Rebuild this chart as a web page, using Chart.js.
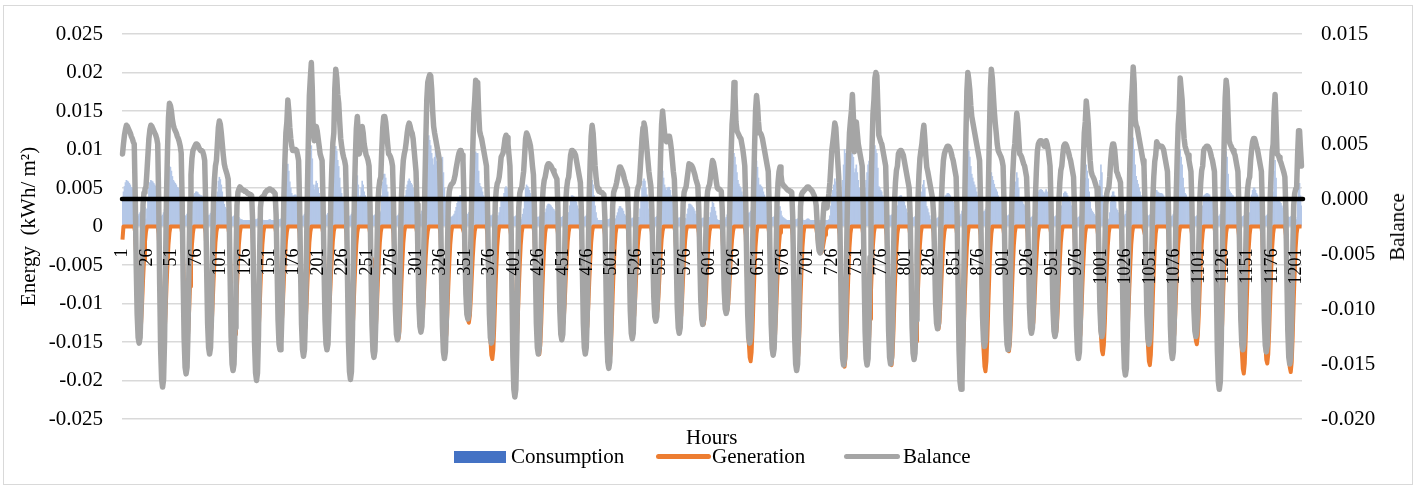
<!DOCTYPE html>
<html>
<head>
<meta charset="utf-8">
<title>Energy balance</title>
<script src="https://cdn.jsdelivr.net/npm/chart.js@4.4.1/dist/chart.umd.min.js"></script>
<style>
  html, body { margin: 0; padding: 0; background: #fff; }
  #wrap { position: relative; width: 1417px; height: 486px; overflow: hidden; }
  #frame { position: absolute; left: 3px; top: 5px; width: 1410px; height: 480px; border: 1.5px solid #d9d9d9; box-sizing: border-box; }
  #chart { position: absolute; left: 0; top: 0; }
  .txt { position: absolute; font-family: "Liberation Serif", "Times New Roman", serif; font-size: 21px; line-height: 24px; color: #000; white-space: nowrap; }
  .swatch { position: absolute; }
</style>
</head>
<body>
<div id="wrap">
  <div id="frame"></div>
  <canvas id="chart" width="1417" height="486"></canvas>
  <div class="txt" style="left:1397px; top:227px; transform: translate(-50%,-50%) rotate(-90deg);">Balance</div>
  <div class="txt" style="left:686px; top:425px;">Hours</div>
  <div class="swatch" style="left:454px; top:451px; width:52px; height:12px; background:#4472C4;"></div>
  <div class="txt" style="left:511px; top:444px;">Consumption</div>
  <div class="swatch" style="left:656px; top:454px; width:55px; height:5px; border-radius:3px; background:#ED7D31;"></div>
  <div class="txt" style="left:712px; top:444px;">Generation</div>
  <div class="swatch" style="left:844px; top:454px; width:56px; height:5px; border-radius:3px; background:#A5A5A5;"></div>
  <div class="txt" style="left:903px; top:444px;">Balance</div>
</div>
<script>
// hourly values, in units of 1e-4 (one line per day of 24 hours)
const consumptionE4 = [
  37,45,52,57,60,59,58,56,54,51,50,47,45,22,18,15,14,16,18,20,24,26,28,25,
  10,23,36,50,57,60,59,58,56,54,52,50,45,20,16,14,13,15,18,22,26,30,40,55,
  78,77,72,65,60,58,56,54,51,50,47,43,38,22,18,15,14,14,16,18,20,22,24,28,
  40,41,43,45,45,44,42,41,40,40,39,36,32,20,17,15,14,15,17,19,21,23,25,27,
  32,45,59,64,61,54,45,36,29,25,23,20,16,15,13,12,12,13,14,15,16,15,14,12,
  10,9,9,8,8,8,8,8,8,8,8,8,8,10,9,9,9,9,10,10,10,10,9,9,
  8,8,8,8,8,8,9,9,8,8,8,8,8,10,9,9,9,9,10,10,12,16,28,45,
  63,81,72,58,50,43,40,40,41,41,40,36,32,20,16,14,13,14,16,18,22,30,45,70,
  95,105,88,54,48,54,59,56,50,43,37,34,32,22,18,15,14,15,17,20,24,28,35,45,
  54,90,104,98,86,78,63,50,43,38,34,32,27,20,16,14,13,14,16,18,22,30,40,55,
  66,54,37,40,50,59,54,45,40,36,34,32,27,20,17,15,14,14,15,16,17,18,19,20,
  18,40,58,68,68,63,54,45,37,36,34,32,27,18,15,13,13,14,15,17,19,21,24,28,
  37,40,47,54,59,62,59,56,54,50,40,32,23,20,17,15,15,16,20,26,40,60,85,100,
  110,118,112,105,95,88,80,90,100,85,70,60,55,60,75,90,70,50,35,25,20,16,13,12,
  12,13,14,16,20,25,30,34,38,40,40,36,32,22,18,16,15,16,18,20,24,30,40,55,
  81,97,95,95,72,56,52,50,45,40,36,32,27,20,17,15,14,14,15,16,16,15,14,14,
  14,18,25,34,36,38,43,50,52,50,45,36,27,18,15,13,12,13,14,15,15,14,13,12,
  9,16,23,36,50,54,52,50,47,43,36,27,20,16,14,13,12,12,13,14,15,16,17,18,
  18,23,27,29,29,28,27,25,23,22,20,18,16,15,13,12,12,12,13,14,15,16,17,18,
  18,27,36,40,40,39,38,36,32,27,23,18,14,15,13,12,12,13,14,16,20,28,40,55,
  60,54,40,27,18,11,8,8,8,8,8,8,8,9,9,9,9,9,10,10,10,10,10,10,
  10,14,18,23,26,26,24,23,20,16,14,11,9,10,10,10,10,11,11,12,12,12,12,12,
  12,23,36,50,59,62,59,50,41,32,23,16,11,12,11,11,11,12,13,15,20,28,40,55,
  72,63,54,50,47,50,51,51,47,40,32,23,16,14,12,11,11,11,12,12,12,12,11,11,
  10,16,23,29,29,28,27,25,23,20,16,14,11,11,10,10,10,11,11,12,12,12,12,12,
  12,18,25,32,30,25,20,14,9,8,8,8,8,9,9,9,10,12,15,20,30,45,60,75,
  85,95,90,80,70,60,55,52,50,45,40,34,27,25,20,18,17,18,20,25,35,50,65,80,
  85,77,63,54,54,52,50,45,41,36,32,27,23,18,15,13,12,12,13,14,15,16,17,18,
  26,20,14,12,11,10,9,8,8,8,8,8,8,9,9,9,9,9,10,10,10,10,10,10,
  8,8,8,9,10,10,9,8,8,8,8,8,8,8,8,8,8,8,8,8,8,8,8,8,
  8,8,9,14,27,40,47,54,62,58,45,32,18,20,25,40,60,80,100,95,85,80,75,70,
  80,95,105,90,70,75,80,70,60,50,45,40,35,35,40,50,60,70,80,85,90,95,100,100,
  100,105,100,95,76,52,50,47,45,40,36,32,27,20,17,15,14,14,15,16,17,18,19,20,
  27,37,39,40,40,38,36,32,27,23,18,14,9,12,11,11,11,12,13,14,15,16,17,18,
  40,45,54,60,50,36,26,23,18,14,9,8,8,10,10,10,10,11,12,13,14,15,16,17,
  37,40,41,43,43,42,40,38,34,32,27,23,18,15,14,14,14,16,20,30,45,65,85,100,
  100,98,90,78,68,63,58,54,50,45,40,36,32,25,22,20,19,20,22,25,30,40,50,60,
  70,65,60,55,50,48,45,40,38,36,34,32,27,20,17,15,14,14,15,16,17,18,20,25,
  45,58,70,63,50,37,36,34,32,29,27,23,18,14,12,11,11,12,13,14,15,16,17,18,
  45,47,48,48,47,45,43,45,48,45,40,34,27,16,14,13,12,13,14,15,16,17,18,19,
  27,36,43,45,45,43,40,38,34,32,27,23,18,14,12,11,11,12,13,15,20,28,40,55,
  63,80,72,62,45,32,23,20,18,16,14,11,9,20,40,60,80,70,40,20,12,10,10,10,
  9,18,32,40,45,45,40,32,23,21,18,16,14,14,13,13,14,16,20,30,50,75,95,110,
  118,115,100,80,65,60,55,50,45,40,36,32,27,20,17,15,14,14,15,16,17,18,19,20,
  36,47,45,44,43,43,43,42,40,36,32,27,23,16,14,13,13,14,16,20,30,45,65,85,
  95,100,90,80,63,50,43,41,38,36,32,27,23,18,15,13,12,13,14,15,16,17,18,19,
  27,40,41,42,43,43,42,41,38,34,32,27,23,16,14,13,13,14,16,20,30,45,65,85,
  97,90,68,48,45,43,41,40,38,36,32,27,23,18,15,13,12,13,14,15,15,15,15,16,
  18,32,41,47,50,50,47,43,41,36,32,27,23,16,14,13,13,14,15,16,18,22,28,35,
  45,72,86,63,37,36,34,32,30,27,24,22,18,16,14,13,12,12,13,14,14,14,13,12,
  9,36,56,56,40,27
];

const generationE4 = [
  -17,0,0,0,0,0,0,0,0,0,0,0,0,-8,-41,-84,-115,-131,-135,-126,-101,-70,-43,-20,
  -7,0,0,0,0,0,0,0,0,0,0,0,0,-9,-45,-93,-128,-146,-150,-140,-113,-78,-48,-23,
  -8,0,0,0,0,0,0,0,0,0,0,0,0,-9,-45,-93,-128,-146,-150,-140,-113,-78,-48,-23,
  -8,0,0,0,0,0,0,0,0,0,0,0,0,-8,-42,-87,-119,-136,-140,-130,-105,-73,-45,-21,
  -7,0,0,0,0,0,0,0,0,0,0,0,0,-9,-45,-93,-128,-146,-150,-140,-113,-78,-48,-23,
  -8,0,0,0,0,0,0,0,0,0,0,0,0,-9,-45,-93,-128,-146,-150,-140,-113,-78,-48,-23,
  -8,0,0,0,0,0,0,0,0,0,0,0,0,-8,-39,-81,-111,-126,-130,-121,-98,-68,-42,-20,
  -7,0,0,0,0,0,0,0,0,0,0,0,0,-8,-42,-87,-119,-136,-140,-130,-105,-73,-45,-21,
  -7,0,0,0,0,0,0,0,0,0,0,0,0,-8,-38,-78,-106,-121,-125,-116,-94,-65,-40,-19,
  -6,0,0,0,0,0,0,0,0,0,0,0,0,-9,-45,-93,-128,-146,-150,-140,-113,-78,-48,-23,
  -8,0,0,0,0,0,0,0,0,0,0,0,0,-8,-42,-87,-119,-136,-140,-130,-105,-73,-45,-21,
  -7,0,0,0,0,0,0,0,0,0,0,0,0,-9,-44,-91,-124,-142,-146,-136,-110,-76,-47,-22,
  -7,0,0,0,0,0,0,0,0,0,0,0,0,-7,-36,-74,-102,-116,-120,-112,-90,-62,-38,-18,
  -6,0,0,0,0,0,0,0,0,0,0,0,0,-9,-45,-93,-128,-146,-150,-140,-113,-78,-48,-23,
  -8,0,0,0,0,0,0,0,0,0,0,0,0,-8,-38,-78,-106,-121,-125,-116,-94,-65,-40,-19,
  -6,0,0,0,0,0,0,0,0,0,0,0,0,-10,-52,-107,-146,-167,-172,-160,-129,-89,-55,-26,
  -9,0,0,0,0,0,0,0,0,0,0,0,0,-10,-48,-99,-136,-155,-160,-149,-120,-83,-51,-24,
  -8,0,0,0,0,0,0,0,0,0,0,0,0,-10,-50,-103,-141,-161,-166,-154,-125,-86,-53,-25,
  -8,0,0,0,0,0,0,0,0,0,0,0,0,-8,-39,-81,-111,-126,-130,-121,-98,-68,-42,-20,
  -7,0,0,0,0,0,0,0,0,0,0,0,0,-8,-42,-87,-119,-136,-140,-130,-105,-73,-45,-21,
  -7,0,0,0,0,0,0,0,0,0,0,0,0,-10,-52,-107,-147,-168,-173,-161,-130,-90,-55,-26,
  -9,0,0,0,0,0,0,0,0,0,0,0,0,-8,-38,-78,-106,-121,-125,-116,-94,-65,-40,-19,
  -6,0,0,0,0,0,0,0,0,0,0,0,0,-7,-35,-71,-98,-112,-115,-107,-86,-60,-37,-17,
  -6,0,0,0,0,0,0,0,0,0,0,0,0,-8,-38,-78,-106,-121,-125,-116,-94,-65,-40,-19,
  -6,0,0,0,0,0,0,0,0,0,0,0,0,-8,-38,-79,-108,-123,-127,-118,-95,-66,-41,-19,
  -6,0,0,0,0,0,0,0,0,0,0,0,0,-7,-33,-68,-94,-107,-110,-102,-83,-57,-35,-17,
  -6,0,0,0,0,0,0,0,0,0,0,0,0,-11,-53,-109,-149,-170,-175,-163,-131,-91,-56,-26,
  -9,0,0,0,0,0,0,0,0,0,0,0,0,-9,-45,-93,-128,-146,-150,-140,-113,-78,-48,-23,
  -8,0,0,0,0,0,0,0,0,0,0,0,0,-11,-53,-109,-149,-170,-175,-163,-131,-91,-56,-26,
  -9,0,0,0,0,0,0,0,0,0,0,0,0,-2,-10,-21,-29,-33,-34,-32,-26,-18,-11,-5,
  -2,0,0,0,0,0,0,0,0,0,0,0,0,-11,-55,-113,-155,-177,-182,-169,-137,-95,-58,-27,
  -9,0,0,0,0,0,0,0,0,0,0,0,0,-10,-48,-99,-136,-155,-160,-149,-120,-83,-51,-24,
  -8,0,0,0,0,0,0,0,0,0,0,0,0,-11,-54,-112,-153,-175,-180,-167,-135,-94,-58,-27,
  -9,0,0,0,0,0,0,0,0,0,0,0,0,-10,-48,-99,-136,-155,-160,-149,-120,-83,-51,-24,
  -8,0,0,0,0,0,0,0,0,0,0,0,0,-8,-40,-82,-113,-129,-133,-124,-100,-69,-43,-20,
  -7,0,0,0,0,0,0,0,0,0,0,0,0,-10,-51,-105,-145,-165,-170,-158,-128,-88,-54,-26,
  -9,0,0,0,0,0,0,0,0,0,0,0,0,-11,-56,-117,-160,-182,-188,-175,-141,-98,-60,-28,
  -9,0,0,0,0,0,0,0,0,0,0,0,0,-10,-49,-100,-138,-157,-162,-151,-122,-84,-52,-24,
  -8,0,0,0,0,0,0,0,0,0,0,0,0,-8,-40,-82,-113,-129,-133,-124,-100,-69,-43,-20,
  -7,0,0,0,0,0,0,0,0,0,0,0,0,-8,-42,-87,-119,-136,-140,-130,-105,-73,-45,-21,
  -7,0,0,0,0,0,0,0,0,0,0,0,0,-9,-45,-93,-128,-146,-150,-140,-113,-78,-48,-23,
  -8,0,0,0,0,0,0,0,0,0,0,0,0,-10,-50,-103,-141,-161,-166,-154,-125,-86,-53,-25,
  -8,0,0,0,0,0,0,0,0,0,0,0,0,-9,-47,-96,-132,-150,-155,-144,-116,-81,-50,-23,
  -8,0,0,0,0,0,0,0,0,0,0,0,0,-11,-54,-112,-153,-175,-180,-167,-135,-94,-58,-27,
  -9,0,0,0,0,0,0,0,0,0,0,0,0,-9,-45,-93,-128,-146,-150,-140,-113,-78,-48,-23,
  -8,0,0,0,0,0,0,0,0,0,0,0,0,-9,-46,-95,-130,-148,-153,-142,-115,-80,-49,-23,
  -8,0,0,0,0,0,0,0,0,0,0,0,0,-10,-50,-102,-140,-160,-165,-153,-124,-86,-53,-25,
  -8,0,0,0,0,0,0,0,0,0,0,0,0,-11,-57,-118,-162,-185,-191,-178,-143,-99,-61,-29,
  -10,0,0,0,0,0,0,0,0,0,0,0,0,-11,-53,-110,-151,-173,-178,-166,-134,-93,-57,-27,
  -9,0,0,0,0,0,0,0,0,0,0,0,0,-11,-57,-117,-161,-183,-189,-176,-142,-98,-60,-28,
  -9,0,0,0,0,0
];

const balanceE4 = [
  41,50,58,63,67,66,64,62,60,57,55,52,50,4,-59,-105,-126,-131,-126,-98,-46,-5,6,9,
  11,25,40,55,63,67,66,64,62,60,58,55,50,0,-77,-137,-164,-171,-164,-128,-60,4,44,74,
  87,85,80,72,67,64,62,60,57,55,52,48,42,-2,-72,-127,-153,-159,-153,-119,-56,-1,22,37,
  44,46,48,50,50,49,47,45,44,44,43,40,35,-3,-63,-113,-135,-141,-135,-106,-49,-2,18,30,
  35,50,65,71,68,60,50,40,32,28,25,22,18,-12,-70,-125,-150,-156,-150,-117,-55,-6,6,9,
  11,10,9,8,8,7,7,6,5,5,4,4,3,-19,-74,-132,-158,-165,-158,-124,-58,-8,1,2,
  2,4,6,7,8,8,9,9,8,8,7,6,5,-14,-62,-110,-132,-137,-132,-103,-48,4,35,60,
  70,90,80,65,55,48,44,44,45,45,44,40,35,-3,-64,-114,-137,-143,-137,-107,-50,9,55,94,
  110,124,100,60,53,60,66,62,55,48,41,38,35,-2,-62,-110,-132,-137,-132,-103,-48,2,30,51,
  60,100,118,110,95,87,70,55,48,42,38,35,30,-8,-74,-131,-157,-164,-157,-123,-57,3,38,64,
  75,60,41,45,55,66,60,50,45,40,38,35,30,-5,-65,-115,-138,-144,-138,-108,-50,-4,10,17,
  20,45,65,75,75,70,60,50,41,40,38,35,30,-3,-58,-102,-123,-128,-123,-96,-45,0,21,35,
  41,45,52,60,66,69,66,62,60,55,45,35,25,-5,-54,-97,-116,-121,-116,-91,-42,10,53,90,
  106,110,113,112,100,80,66,60,55,50,45,40,35,-3,-65,-116,-139,-145,-139,-109,-51,-5,7,11,
  13,14,15,18,22,28,33,38,42,44,44,40,35,1,-49,-87,-105,-109,-105,-82,-38,8,45,77,
  90,108,106,106,80,62,58,55,50,45,40,35,30,-4,-59,-105,-126,-131,-126,-98,-46,-4,8,14,
  16,20,28,38,40,42,48,55,58,56,50,40,30,-10,-81,-144,-173,-180,-173,-135,-63,-8,5,9,
  10,18,25,40,55,60,58,55,52,48,40,30,22,-8,-63,-113,-135,-141,-135,-106,-49,-4,10,17,
  20,25,30,32,32,31,30,28,26,24,22,20,18,-8,-58,-102,-123,-128,-123,-96,-45,-3,10,17,
  20,30,40,44,44,43,42,40,35,30,25,20,15,-11,-63,-113,-135,-141,-135,-106,-49,3,34,57,
  67,60,45,30,20,12,9,7,7,6,6,5,4,-17,-69,-123,-148,-154,-148,-116,-54,-6,6,9,
  11,15,20,25,29,29,27,25,22,18,15,12,10,-11,-57,-102,-122,-127,-122,-95,-44,-4,7,11,
  13,25,40,55,65,69,65,55,45,35,25,18,12,-9,-50,-89,-107,-111,-107,-83,-39,6,40,68,
  80,70,60,55,52,55,57,57,52,45,35,25,18,-7,-55,-98,-117,-122,-117,-92,-43,-4,6,9,
  11,18,25,32,32,31,30,28,25,22,18,15,12,-9,-51,-91,-109,-114,-109,-86,-40,-4,7,11,
  13,20,28,35,33,28,22,15,10,9,9,8,7,-10,-47,-83,-100,-104,-100,-78,-36,7,40,68,
  80,106,95,70,62,60,58,56,55,50,45,38,30,-4,-59,-105,-126,-131,-126,-98,-46,8,47,80,
  94,85,70,60,60,58,55,50,45,40,35,30,25,-7,-64,-114,-136,-142,-136,-107,-50,-3,15,25,
  29,22,15,13,12,11,10,9,8,8,7,7,6,-16,-70,-125,-150,-156,-150,-117,-55,-7,4,6,
  7,8,9,10,11,11,10,9,8,7,5,3,0,-6,-22,-39,-47,-49,-47,-37,-17,-4,-4,-7,
  -8,-2,5,15,30,45,52,60,69,65,50,35,20,-10,-68,-121,-145,-151,-145,-113,-53,3,36,60,
  71,80,95,75,43,60,70,60,50,45,40,35,30,-6,-68,-121,-145,-151,-145,-113,-53,6,45,77,
  90,110,115,112,85,58,55,52,50,45,40,35,30,-6,-68,-120,-144,-150,-144,-113,-53,-3,15,26,
  30,41,43,44,44,42,40,35,30,25,20,15,10,-14,-66,-117,-140,-146,-140,-110,-51,-1,22,37,
  44,50,60,67,55,40,29,25,20,15,10,5,0,-14,-53,-94,-113,-118,-113,-89,-41,0,21,35,
  41,44,46,48,48,47,45,42,38,35,30,25,20,-13,-78,-138,-166,-173,-166,-130,-61,9,58,98,
  115,108,99,85,75,70,65,60,55,50,45,40,35,-2,-60,-107,-129,-134,-129,-101,-47,11,59,100,
  118,110,95,80,69,60,50,44,42,40,38,35,30,-4,-62,-110,-132,-137,-132,-103,-48,1,25,43,
  50,65,78,70,55,41,40,38,35,32,30,25,20,-7,-55,-98,-117,-122,-117,-92,-43,1,25,43,
  50,52,53,53,52,50,48,50,53,50,45,38,30,-3,-56,-100,-120,-125,-120,-94,-44,-2,15,26,
  30,40,48,50,50,48,45,42,38,35,30,25,20,-9,-65,-116,-139,-145,-139,-109,-51,3,35,60,
  70,89,80,69,50,35,25,22,20,18,15,12,10,-11,-56,-100,-120,-125,-120,-94,-44,-5,5,9,
  10,20,35,45,50,50,45,35,25,23,20,18,15,-13,-72,-128,-154,-160,-154,-120,-56,7,50,85,
  100,120,105,72,67,65,60,55,50,45,40,35,30,-4,-59,-106,-127,-132,-127,-99,-46,-1,20,34,
  40,52,50,49,48,48,48,47,45,40,35,30,25,-7,-65,-116,-139,-145,-139,-109,-51,5,40,68,
  80,110,100,90,70,55,48,45,42,40,35,30,25,-5,-56,-100,-120,-125,-120,-94,-44,-2,15,26,
  30,44,46,47,48,48,47,45,42,38,35,30,25,-11,-78,-138,-166,-173,-166,-130,-61,8,54,92,
  108,100,75,53,50,48,46,44,42,40,35,30,25,-6,-62,-110,-132,-137,-132,-103,-48,-4,10,17,
  20,35,45,52,55,55,52,48,45,40,35,30,25,-7,-63,-111,-133,-139,-133,-104,-49,1,25,43,
  50,80,95,70,41,40,38,35,33,30,27,24,20,-10,-68,-120,-144,-150,-144,-113,-53,-6,5,9,
  10,40,62,62,45,30
];

// hour numbers for the category axis, a label every 25 hours
const hours = balanceE4.map((_, i) => i + 1);
const labelEvery = 25;

const toKwh = v => v / 10000;

// thick black zero line of the balance axis, drawn over the series
const zeroLine = {
  id: 'zeroLine',
  afterDatasetsDraw(chart) {
    const { ctx, chartArea, scales } = chart;
    const y = scales.y1.getPixelForValue(0);
    ctx.save();
    ctx.strokeStyle = '#000';
    ctx.lineWidth = 4.5;
    ctx.lineCap = 'round';
    ctx.beginPath();
    ctx.moveTo(chartArea.left, y);
    ctx.lineTo(chartArea.right + 1, y);
    ctx.stroke();
    ctx.restore();
  }
};

Chart.defaults.font.family = '"Liberation Serif", "Times New Roman", serif';
Chart.defaults.font.size = 21;
Chart.defaults.color = '#000';

new Chart(document.getElementById('chart'), {
  type: 'bar',
  data: {
    labels: hours,
    datasets: [
      {
        type: 'line',
        label: 'Balance',
        data: balanceE4.map(toKwh),
        yAxisID: 'y1',
        borderColor: '#A5A5A5',
        borderWidth: 5.5,
        pointRadius: 0,
        borderJoinStyle: 'round',
        borderCapStyle: 'round',
        order: 1
      },
      {
        type: 'line',
        label: 'Generation',
        data: generationE4.map(toKwh),
        yAxisID: 'y',
        borderColor: '#ED7D31',
        borderWidth: 4,
        pointRadius: 0,
        borderJoinStyle: 'round',
        order: 2
      },
      {
        type: 'bar',
        label: 'Consumption',
        data: consumptionE4.map(toKwh),
        yAxisID: 'y',
        backgroundColor: '#B4C7E7',
        borderWidth: 0,
        barPercentage: 1,
        categoryPercentage: 1,
        order: 3
      }
    ]
  },
  options: {
    responsive: false,
    animation: false,
    devicePixelRatio: 1,
    events: [],
    layout: { padding: { left: 0, right: 0, top: 34, bottom: 67 } },
    plugins: {
      legend: { display: false },
      tooltip: { enabled: false }
    },
    scales: {
      x: {
        position: { y: 0 },
        grid: { display: false },
        border: { display: false },
        ticks: {
          z: 1,
          autoSkip: false,
          minRotation: 90,
          maxRotation: 90,
          padding: 14,
          font: { size: 18 },
          callback: (v, i) => (i % labelEvery === 0 ? String(hours[i]) : '')
        }
      },
      y: {
        position: 'left',
        min: -0.025,
        max: 0.025,
        grid: { color: '#D9D9D9', lineWidth: 1.5, drawTicks: false },
        border: { display: false },
        ticks: {
          stepSize: 0.005,
          padding: 19,
          callback: v => String(+v.toFixed(3))
        },
        title: {
          display: true,
          text: 'Energy  (kWh/ m²)',
          padding: { top: 17, bottom: 0 }
        },
        afterFit: s => { s.width = 122; }
      },
      y1: {
        position: 'right',
        min: -0.02,
        max: 0.015,
        grid: { display: false, drawTicks: false },
        border: { display: false },
        ticks: {
          stepSize: 0.005,
          padding: 19,
          callback: v => (Math.abs(v) < 1e-9 ? '0.000' : v.toFixed(3))
        },
        afterFit: s => { s.width = 115; }
      }
    }
  },
  plugins: [zeroLine]
});
</script>
</body>
</html>
